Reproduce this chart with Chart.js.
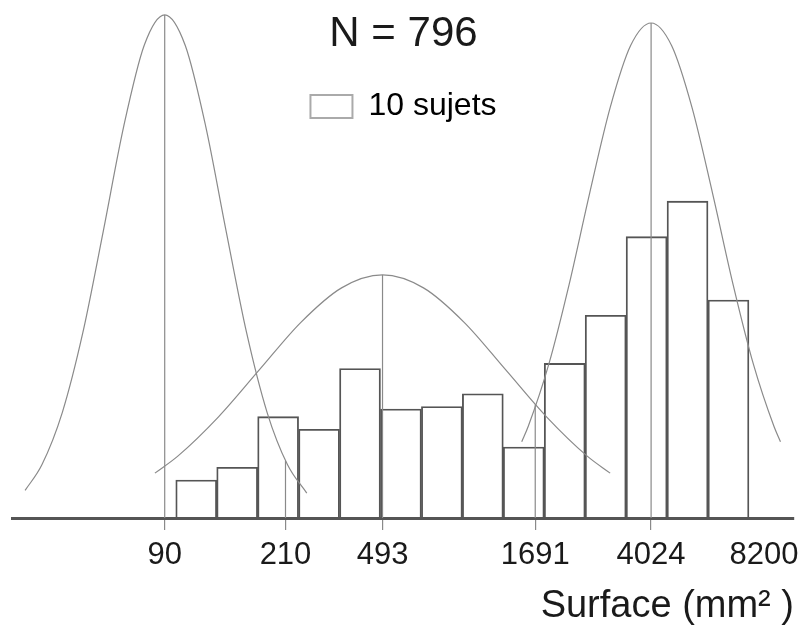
<!DOCTYPE html>
<html>
<head>
<meta charset="utf-8">
<script src="https://cdn.jsdelivr.net/npm/chart.js@4.4.1/dist/chart.umd.min.js"></script>
<style>
  html, body { margin: 0; padding: 0; background: #fff; }
  #wrap { width: 806px; height: 627px; position: relative; }
</style>
</head>
<body>
<div id="wrap"><canvas id="histo"></canvas></div>
<script>
// histogramme : 14 classes (x = indice de classe), effectifs
const binCenters = [0.5, 1.5, 2.5, 3.5, 4.5, 5.5, 6.5, 7.5, 8.5, 9.5, 10.5, 11.5, 12.5, 13.5];
const binCounts  = [15, 20, 40, 35, 59, 43, 44, 49, 28, 61, 80, 111, 125, 86];

// graduations de l'axe (positions en unites de classe)
const tickPos    = [-0.27, 2.68, 5.05, 8.78, 11.61, 14.37];
const tickLabels = ['90', '210', '493', '1691', '4024', '8200'];

// trois courbes en cloche
const leftCurveX  = [-3.68, -3.27, -2.77, -2.27, -1.77, -1.27, -0.77, -0.27, 0.23, 0.73, 1.23, 1.73, 2.23, 2.73, 3.20];
const leftCurveY  = [10.9, 21.0, 41.7, 73.1, 113.2, 154.6, 186.5, 198.5, 186.5, 154.6, 113.2, 73.1, 41.7, 21.0, 9.8];
const midCurveX   = [-0.51, 0.05, 1.05, 2.05, 3.05, 4.05, 5.05, 6.05, 7.05, 8.05, 9.05, 10.05, 10.61];
const midCurveY   = [17.7, 24.4, 40.0, 58.6, 77.1, 90.8, 95.9, 90.8, 77.1, 58.6, 40.0, 24.4, 17.7];
const rightCurveX = [8.45, 8.61, 9.11, 9.61, 10.11, 10.61, 11.11, 11.61, 12.11, 12.61, 13.11, 13.61, 14.11, 14.61, 14.77];
const rightCurveY = [30.1, 36.2, 60.6, 92.3, 128.2, 161.9, 186.4, 195.3, 186.4, 161.9, 128.2, 92.3, 60.6, 36.2, 30.1];

// traits verticaux (position, hauteur atteinte)
const markerX   = [-0.27, 2.68, 5.05, 8.78, 11.61];
const markerTop = [198.5, 22.6, 95.9, 44.8, 195.3];

const titleText  = 'N = 796';
const legendText = '10 sujets';
const axisTitle  = 'Surface (mm\u00B2 )';

// la zone du graphique commence sous la légende ; les courbes la dépassent (clip: false)
const X_MIN = -4.0, X_MAX = 15.1, Y_MAX = 152.1;

Chart.defaults.font.family = '"Liberation Sans", Arial, Helvetica, sans-serif';
Chart.defaults.color = '#1a1a1a';

const toPts = (xs, ys) => xs.map((x, i) => ({ x: x, y: ys[i] }));

const curveStyle = {
  type: 'line', borderColor: '#8a8a8a', borderWidth: 1.2, pointRadius: 0,
  fill: false, cubicInterpolationMode: 'monotone', clip: false, order: 0
};

const datasets = [{
  type: 'bar', label: legendText,
  data: toPts(binCenters, binCounts),
  backgroundColor: 'rgba(255,255,255,0)', borderColor: '#555', borderWidth: 1.2,
  barPercentage: 1, categoryPercentage: 1, order: 2
},
  Object.assign({ data: toPts(leftCurveX, leftCurveY) }, curveStyle),
  Object.assign({ data: toPts(midCurveX, midCurveY) }, curveStyle),
  Object.assign({ data: toPts(rightCurveX, rightCurveY) }, curveStyle)
];

markerX.forEach((x, i) => {
  datasets.push({
    type: 'line', data: [{ x: x, y: 0 }, { x: x, y: markerTop[i] }],
    borderColor: '#8a8a8a', borderWidth: 1.2, pointRadius: 0, fill: false, clip: false, order: 1
  });
});

new Chart(document.getElementById('histo'), {
  type: 'bar',
  data: { datasets: datasets },
  options: {
    responsive: true, maintainAspectRatio: false, animation: false, events: [],
    layout: { padding: { left: 12, right: 11, top: 0, bottom: 0 } },
    scales: {
      x: {
        type: 'linear', min: X_MIN, max: X_MAX, offset: false,
        afterBuildTicks: s => { s.ticks = tickPos.map(v => ({ value: v })); },
        ticks: {
          autoSkip: false, maxRotation: 0, minRotation: 0, padding: 7,
          font: { size: 31 }, color: '#1a1a1a',
          callback: (v, i) => tickLabels[i]
        },
        grid: {
          offset: false, drawOnChartArea: false, drawTicks: true, tickLength: 12, lineWidth: 1.2,
          color: ctx => (ctx.index === tickPos.length - 1 ? 'rgba(0,0,0,0)' : '#8a8a8a')
        },
        border: { display: true, color: '#555', width: 3 },
        title: {
          display: true, text: axisTitle, align: 'end', color: '#1a1a1a',
          font: { size: 38, lineHeight: 1.1 }, padding: { top: 4, bottom: 0 }
        }
      },
      y: { display: false, min: 0, max: Y_MAX }
    },
    plugins: {
      tooltip: { enabled: false },
      title: {
        display: true, text: titleText, color: '#1a1a1a',
        font: { size: 42, weight: 'normal', lineHeight: 1 }, padding: { top: 13, bottom: 5 }
      },
      legend: {
        display: true, position: 'top', align: 'center', onClick: null,
        labels: {
          boxWidth: 42, boxHeight: 23, padding: 30.5, color: '#1a1a1a', font: { size: 32 },
          generateLabels: () => [{
            text: legendText, fillStyle: '#fff', strokeStyle: '#aaa', lineWidth: 2,
            hidden: false, datasetIndex: 0
          }]
        }
      }
    }
  }
});
</script>
</body>
</html>
